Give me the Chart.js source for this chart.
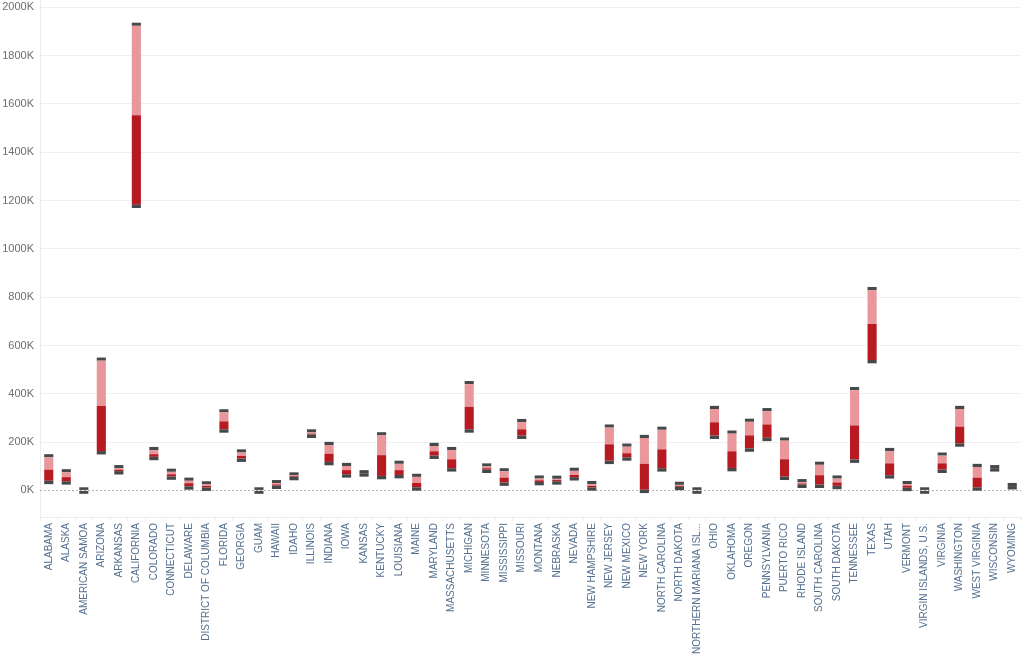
<!DOCTYPE html>
<html>
<head>
<meta charset="utf-8">
<script src="https://cdn.jsdelivr.net/npm/chart.js@4.4.1/dist/chart.umd.min.js"></script>
<style>
html,body{margin:0;padding:0;background:#fff;}
#wrap{width:1024px;height:663px;position:relative;}
</style>
</head>
<body>
<div id="wrap"><canvas id="c" width="1024" height="663"></canvas></div>
<script>
const categories = ["ALABAMA","ALASKA","AMERICAN SAMOA","ARIZONA","ARKANSAS","CALIFORNIA","COLORADO","CONNECTICUT","DELAWARE","DISTRICT OF COLUMBIA","FLORIDA","GEORGIA","GUAM","HAWAII","IDAHO","ILLINOIS","INDIANA","IOWA","KANSAS","KENTUCKY","LOUISIANA","MAINE","MARYLAND","MASSACHUSETTS","MICHIGAN","MINNESOTA","MISSISSIPPI","MISSOURI","MONTANA","NEBRASKA","NEVADA","NEW HAMPSHIRE","NEW JERSEY","NEW MEXICO","NEW YORK","NORTH CAROLINA","NORTH DAKOTA","NORTHERN MARIANA ISL...","OHIO","OKLAHOMA","OREGON","PENNSYLVANIA","PUERTO RICO","RHODE ISLAND","SOUTH CAROLINA","SOUTH DAKOTA","TENNESSEE","TEXAS","UTAH","VERMONT","VIRGIN ISLANDS, U.S.","VIRGINIA","WASHINGTON","WEST VIRGINIA","WISCONSIN","WYOMING"];
// values in thousands
const lowValues  = [40,38,0,163,80,1183,139,58,17,12,253,132,0,20,56,231,118,67,71,60,64,13,144,92,253,86,33,227,35,38,55,13,123,137,3,92,15,0,227,93,174,218,57,24,24,19,128,540,63,11,0,86,195,13,92,18];
const midValues  = [86,55,0,350,86,1553,150,67,30,19,286,143,0,25,59,235,152,84,71,146,84,31,162,129,346,92,53,253,42,43,64,19,191,154,110,170,19,0,282,162,228,273,129,29,63,33,269,689,112,20,0,112,264,53,92,18];
const highValues = [137,75,0,537,92,1923,167,77,40,25,323,157,0,30,62,240,188,101,71,228,110,56,184,167,440,99,79,283,49,48,81,26,260,181,217,251,23,0,337,235,284,328,206,34,106,49,415,829,163,26,0,144,337,97,92,18];
const yTickValues = [0,200,400,600,800,1000,1200,1400,1600,1800,2000];

const CAP_TOP = 13, CAP_BOTTOM = 14;
const GRAY = '#45494a', RED = '#b71a21', PINK = '#e9979a';

const zeroLine = {
  id:'zeroLine',
  beforeDatasetsDraw(chart){
    const {ctx, chartArea, scales:{y}} = chart;
    const py = Math.round(y.getPixelForValue(0)) + 0.5;
    ctx.save();
    ctx.strokeStyle = '#b5b5b5';
    ctx.lineWidth = 1;
    ctx.setLineDash([2,2]);
    ctx.beginPath();
    ctx.moveTo(chartArea.left, py);
    ctx.lineTo(chartArea.right, py);
    ctx.stroke();
    ctx.restore();
  }
};

const common = {grouped:false, barPercentage:0.52, categoryPercentage:1.0, borderWidth:0};
new Chart(document.getElementById('c'), {
  type:'bar',
  data:{
    labels:categories,
    datasets:[
      Object.assign({label:'base', data:categories.map((c,i)=>[lowValues[i]-CAP_BOTTOM, lowValues[i]]), backgroundColor:GRAY}, common),
      Object.assign({label:'lower', data:categories.map((c,i)=>[lowValues[i], midValues[i]]), backgroundColor:RED}, common),
      Object.assign({label:'upper', data:categories.map((c,i)=>[midValues[i], highValues[i]]), backgroundColor:PINK}, common),
      Object.assign({label:'cap', data:categories.map((c,i)=>[highValues[i], highValues[i]+CAP_TOP]), backgroundColor:GRAY}, common)
    ]
  },
  options:{
    responsive:false,
    animation:false,
    layout:{padding:{left:0,right:3,top:0,bottom:0}},
    plugins:{legend:{display:false}, tooltip:{enabled:false}},
    scales:{
      x:{
        grid:{display:true, drawOnChartArea:false, drawTicks:true, tickLength:4, color:'#f0f0f0', offset:true},
        border:{display:true, color:'#ececec'},
        ticks:{autoSkip:false, minRotation:90, maxRotation:90, padding:2, color:'#55708f', font:{family:'"Liberation Sans", Arial, sans-serif', size:10}},
        afterFit(s){ s.height = 146; s.paddingLeft = 0; s.paddingRight = 0; }
      },
      y:{
        min:-110, max:2030,
        grid:{color:(c)=> c.tick && c.tick.value===0 ? 'rgba(0,0,0,0)' : '#f0f0f0', drawTicks:false},
        border:{display:true, color:'#ececec'},
        afterBuildTicks(s){ s.ticks = yTickValues.map(v=>({value:v})); },
        ticks:{padding:6, color:'#6e6e6e', font:{family:'"Liberation Sans", Arial, sans-serif', size:11}, callback:(v)=>v+'K'},
        afterFit(s){ s.width = 40; s.paddingTop = 0; s.paddingBottom = 0; }
      }
    }
  },
  plugins:[zeroLine]
});
</script>
</body>
</html>
